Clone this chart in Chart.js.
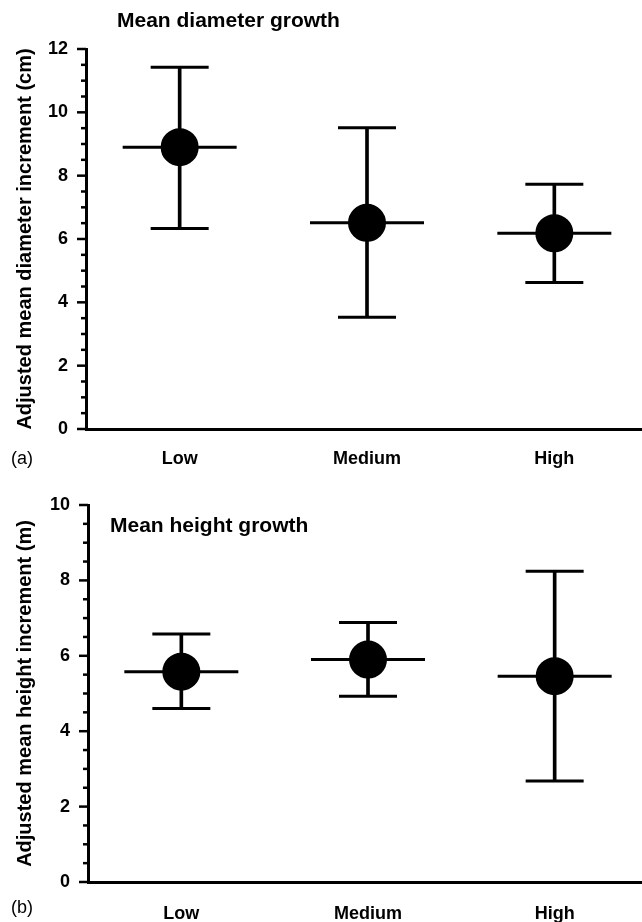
<!DOCTYPE html>
<html>
<head>
<meta charset="utf-8">
<script src="https://cdn.jsdelivr.net/npm/chart.js@4"></script>
<style>
  body { margin: 0; background: #fff; overflow: hidden; width: 642px; height: 922px; position: relative; }
  canvas { position: absolute; left: 0; }
  #chartA { top: 0; }
  #chartB { top: 465px; }
  .panel { position: absolute; left: 11px; font: 18px "Liberation Sans", Arial, sans-serif; color: #000; }
</style>
</head>
<body>
<canvas id="chartA" width="650" height="480"></canvas>
<canvas id="chartB" width="650" height="465"></canvas>
<div class="panel" style="top:448px">(a)</div>
<div class="panel" style="top:897px">(b)</div>
<script>
// Kategori dan data
const categories = ['Low', 'Medium', 'High'];

const diamMean = [8.9, 6.51, 6.18];
const diamUpper = [11.42, 9.51, 7.73];
const diamLower = [6.33, 3.53, 4.63];

const heightMean = [5.58, 5.9, 5.46];
const heightUpper = [6.58, 6.88, 8.24];
const heightLower = [4.6, 4.93, 2.68];

const diamTicks = [0, 2, 4, 6, 8, 10, 12];
const heightTicks = [0, 2, 4, 6, 8, 10];

const FONT = '"Liberation Sans", Arial, sans-serif';

// garis tick kiri: panjang untuk major, pendek untuk minor (tiap 0.5)
const axisTicks = {
    id: 'axisTicks',
    afterDraw(chart) {
        const y = chart.scales.y;
        const ctx = chart.ctx;
        ctx.save();
        ctx.strokeStyle = '#000';
        ctx.lineWidth = 2.5;
        for (let v = y.min; v <= y.max + 0.001; v += 0.5) {
            const py = y.getPixelForValue(v);
            const len = (v % 2 === 0) ? 9 : 5;
            ctx.beginPath();
            ctx.moveTo(y.right - len, py);
            ctx.lineTo(y.right, py);
            ctx.stroke();
        }
        ctx.restore();
    }
};

// judul panel di dalam area grafik
const panelTitle = {
    id: 'panelTitle',
    afterDraw(chart, args, opts) {
        const ctx = chart.ctx;
        ctx.save();
        ctx.font = 'bold 21px ' + FONT;
        ctx.fillStyle = '#000';
        ctx.textBaseline = 'alphabetic';
        ctx.fillText(opts.text, chart.chartArea.left + opts.dx, opts.y);
        ctx.restore();
    }
};

function makeChart(id, mean, upper, lower, tickVals, yMax, yTitle, titleText, titleDx, titleY, axisW, padTop, xH, xPad) {
    return new Chart(id, {
        type: 'bar',
        data: {
            labels: categories,
            datasets: [
                {   // mean dot
                    type: 'line',
                    data: mean,
                    showLine: false,
                    pointStyle: 'circle',
                    pointRadius: 18,
                    pointBackgroundColor: '#000',
                    pointBorderColor: '#000',
                    pointBorderWidth: 2
                },
                {   // mean horizontal line
                    type: 'line',
                    data: mean,
                    showLine: false,
                    pointStyle: 'line',
                    pointRadius: 57,
                    pointBorderColor: '#000',
                    pointBorderWidth: 3
                },
                {   // upper cap
                    type: 'line',
                    data: upper,
                    showLine: false,
                    pointStyle: 'line',
                    pointRadius: 29,
                    pointBorderColor: '#000',
                    pointBorderWidth: 3
                },
                {   // lower cap
                    type: 'line',
                    data: lower,
                    showLine: false,
                    pointStyle: 'line',
                    pointRadius: 29,
                    pointBorderColor: '#000',
                    pointBorderWidth: 3
                },
                {   // vertical error bar
                    type: 'bar',
                    data: lower.map((l, i) => [l, upper[i]]),
                    backgroundColor: '#000',
                    barThickness: 3
                }
            ]
        },
        options: {
            responsive: false,
            animation: false,
            layout: { autoPadding: false, padding: { top: padTop, right: 2, left: 0, bottom: 0 } },
            plugins: {
                legend: { display: false },
                tooltip: { enabled: false },
                panelTitle: { text: titleText, dx: titleDx, y: titleY }
            },
            scales: {
                x: {
                    offset: true,
                    grid: { display: false, drawTicks: false },
                    border: { display: true, color: '#000', width: 3 },
                    ticks: { color: '#000', padding: xPad, font: { family: FONT, size: 18, weight: 'bold' } },
                    afterFit: (s) => { s.height = xH; }
                },
                y: {
                    min: 0,
                    max: yMax,
                    afterBuildTicks: (s) => { s.ticks = tickVals.map(v => ({ value: v })); },
                    grid: { display: false, drawTicks: false },
                    border: { display: true, color: '#000', width: 3 },
                    ticks: { color: '#000', padding: 18, font: { family: FONT, size: 18, weight: 'bold' } },
                    title: {
                        display: true,
                        text: yTitle,
                        color: '#000',
                        padding: { top: 13, bottom: 0 },
                        font: { family: FONT, size: 20, weight: 'bold' }
                    },
                    afterFit: (s) => { s.width = axisW; }
                }
            }
        },
        plugins: [axisTicks, panelTitle]
    });
}

var chartA = makeChart('chartA', diamMean, diamUpper, diamLower, diamTicks, 12,
    'Adjusted mean diameter increment (cm)', 'Mean diameter growth', 31, 27, 86, 49, 51, 19);
var chartB = makeChart('chartB', heightMean, heightUpper, heightLower, heightTicks, 10,
    'Adjusted mean height increment (m)', 'Mean height growth', 22, 67, 88, 40, 48, 21);
</script>
</body>
</html>
